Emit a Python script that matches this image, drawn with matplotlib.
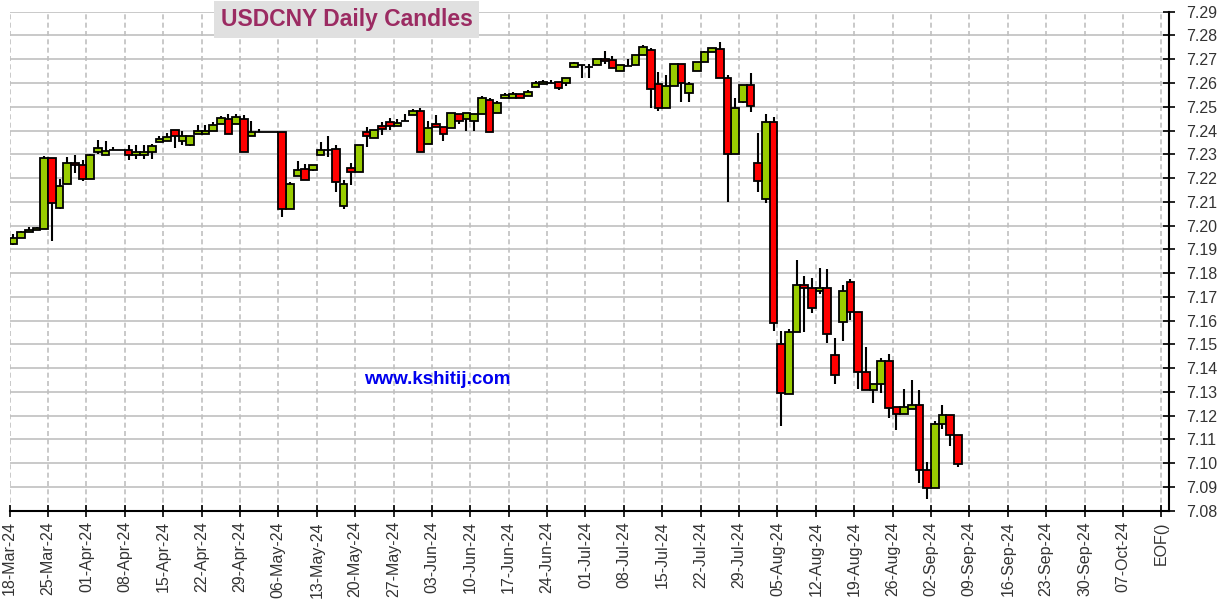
# USDCNY daily candles

import matplotlib.pyplot as plt
import numpy as np
import pandas as pd

plt.rcParams['font.family'] = ['Liberation Sans', 'DejaVu Sans']

# trading days, Mon-Fri, 18-Mar-24 .. 05-Sep-24
dates = pd.bdate_range('2024-03-18', '2024-09-05')

opens = [7.1922, 7.1948, 7.1973, 7.1981, 7.1985,
         7.2284, 7.2073, 7.2174, 7.2263, 7.2254,
         7.2195, 7.2308, 7.2296, 7.2319, 7.2319,
         7.2319, 7.2298, 7.2298, 7.2310, 7.2351,
         7.2357, 7.2402, 7.2357, 7.2339, 7.2385,
         7.2385, 7.2398, 7.2427, 7.2448, 7.2427,
         7.2448, 7.2376, 7.2392, 7.2392, 7.2392,
         7.2392, 7.2069, 7.2208, 7.2240, 7.2233,
         7.2296, 7.2319, 7.2322, 7.2082, 7.2244,
         7.2225, 7.2395, 7.2368, 7.2419, 7.2435,
         7.2419, 7.2438, 7.2465, 7.2482, 7.2343,
         7.2428, 7.2414, 7.2410, 7.2471, 7.2450,
         7.2440, 7.2469, 7.2528, 7.2473, 7.2536,
         7.2536, 7.2552, 7.2545, 7.2581, 7.2595,
         7.2602, 7.2604, 7.2600, 7.2668, 7.2674,
         7.2666, 7.2675, 7.2703, 7.2696, 7.2650,
         7.2673, 7.2675, 7.2717, 7.2739, 7.2595,
         7.2494, 7.2587, 7.2680, 7.2557, 7.2650,
         7.2688, 7.2730, 7.2743, 7.2621, 7.2301,
         7.2520, 7.2591, 7.2263, 7.2111, 7.2435,
         7.1500, 7.1290, 7.1551, 7.1749, 7.1736,
         7.1725, 7.1736, 7.1454, 7.1593, 7.1761,
         7.1635, 7.1382, 7.1307, 7.1332, 7.1429,
         7.1237, 7.1209, 7.1226, 7.1243, 7.0970,
         7.0894, 7.1166, 7.1203, 7.1117]

highs = [7.1964, 7.1978, 7.1995, 7.1995, 7.2294,
         7.2284, 7.2194, 7.2289, 7.2296, 7.2275,
         7.2303, 7.2361, 7.2355, 7.2332, 7.2319,
         7.2339, 7.2340, 7.2340, 7.2343, 7.2375,
         7.2388, 7.2402, 7.2399, 7.2376, 7.2424,
         7.2424, 7.2437, 7.2462, 7.2469, 7.2469,
         7.2466, 7.2441, 7.2406, 7.2392, 7.2392,
         7.2392, 7.2184, 7.2273, 7.2261, 7.2254,
         7.2350, 7.2378, 7.2339, 7.2191, 7.2263,
         7.2339, 7.2416, 7.2402, 7.2435, 7.2452,
         7.2448, 7.2469, 7.2490, 7.2494, 7.2441,
         7.2466, 7.2414, 7.2473, 7.2471, 7.2473,
         7.2469, 7.2546, 7.2536, 7.2524, 7.2557,
         7.2560, 7.2552, 7.2570, 7.2608, 7.2614,
         7.2614, 7.2604, 7.2621, 7.2689, 7.2674,
         7.2680, 7.2703, 7.2736, 7.2712, 7.2675,
         7.2701, 7.2717, 7.2760, 7.2747, 7.2647,
         7.2633, 7.2680, 7.2680, 7.2605, 7.2688,
         7.2736, 7.2747, 7.2774, 7.2635, 7.2536,
         7.2591, 7.2642, 7.2389, 7.2469, 7.2458,
         7.1557, 7.1563, 7.1854, 7.1788, 7.1778,
         7.1820, 7.1818, 7.1526, 7.1750, 7.1774,
         7.1635, 7.1489, 7.1332, 7.1444, 7.1458,
         7.1237, 7.1314, 7.1348, 7.1310, 7.1006,
         7.1177, 7.1244, 7.1203, 7.1117]

lows = [7.1920, 7.1948, 7.1973, 7.1981, 7.1985,
        7.1933, 7.2068, 7.2174, 7.2223, 7.2188,
        7.2195, 7.2301, 7.2296, 7.2319, 7.2319,
        7.2275, 7.2282, 7.2282, 7.2278, 7.2351,
        7.2357, 7.2326, 7.2339, 7.2333, 7.2385,
        7.2385, 7.2398, 7.2427, 7.2385, 7.2427,
        7.2308, 7.2376, 7.2392, 7.2392, 7.2392,
        7.2038, 7.2069, 7.2208, 7.2191, 7.2228,
        7.2296, 7.2287, 7.2143, 7.2068, 7.2169,
        7.2225, 7.2329, 7.2368, 7.2379, 7.2403,
        7.2419, 7.2438, 7.2465, 7.2308, 7.2343,
        7.2414, 7.2357, 7.2410, 7.2426, 7.2396,
        7.2399, 7.2469, 7.2392, 7.2473, 7.2536,
        7.2536, 7.2536, 7.2545, 7.2581, 7.2595,
        7.2602, 7.2571, 7.2586, 7.2668, 7.2619,
        7.2623, 7.2675, 7.2680, 7.2663, 7.2650,
        7.2673, 7.2675, 7.2717, 7.2493, 7.2484,
        7.2494, 7.2587, 7.2522, 7.2518, 7.2650,
        7.2688, 7.2730, 7.2621, 7.2101, 7.2301,
        7.2514, 7.2476, 7.2143, 7.2097, 7.1557,
        7.1156, 7.1290, 7.1551, 7.1554, 7.1634,
        7.1711, 7.1507, 7.1335, 7.1514, 7.1603,
        7.1311, 7.1307, 7.1255, 7.1297, 7.1192,
        7.1138, 7.1209, 7.1226, 7.0918, 7.0848,
        7.0894, 7.1142, 7.1072, 7.0985]

closes = [7.1948, 7.1973, 7.1981, 7.1988, 7.2284,
          7.2096, 7.2166, 7.2263, 7.2256, 7.2195,
          7.2296, 7.2326, 7.2313, 7.2319, 7.2319,
          7.2296, 7.2309, 7.2309, 7.2334, 7.2364,
          7.2372, 7.2376, 7.2376, 7.2376, 7.2396,
          7.2396, 7.2424, 7.2452, 7.2385, 7.2458,
          7.2308, 7.2392, 7.2392, 7.2392, 7.2392,
          7.2069, 7.2174, 7.2233, 7.2191, 7.2254,
          7.2317, 7.2319, 7.2183, 7.2174, 7.2225,
          7.2339, 7.2375, 7.2402, 7.2406, 7.2419,
          7.2433, 7.2438, 7.2482, 7.2308, 7.2410,
          7.2414, 7.2385, 7.2473, 7.2441, 7.2473,
          7.2469, 7.2536, 7.2392, 7.2515, 7.2549,
          7.2552, 7.2536, 7.2562, 7.2600, 7.2604,
          7.2602, 7.2579, 7.2621, 7.2684, 7.2674,
          7.2666, 7.2703, 7.2692, 7.2663, 7.2675,
          7.2673, 7.2717, 7.2750, 7.2574, 7.2494,
          7.2587, 7.2680, 7.2600, 7.2597, 7.2688,
          7.2730, 7.2747, 7.2621, 7.2301, 7.2494,
          7.2591, 7.2503, 7.2187, 7.2435, 7.1590,
          7.1297, 7.1551, 7.1749, 7.1738, 7.1652,
          7.1736, 7.1542, 7.1371, 7.1724, 7.1635,
          7.1382, 7.1307, 7.1332, 7.1429, 7.1231,
          7.1209, 7.1237, 7.1243, 7.0970, 7.0894,
          7.1166, 7.1203, 7.1117, 7.0998]

tick_labels = ['18-Mar-24', '25-Mar-24', '01-Apr-24', '08-Apr-24', '15-Apr-24',
               '22-Apr-24', '29-Apr-24', '06-May-24', '13-May-24', '20-May-24',
               '27-May-24', '03-Jun-24', '10-Jun-24', '17-Jun-24', '24-Jun-24',
               '01-Jul-24', '08-Jul-24', '15-Jul-24', '22-Jul-24', '29-Jul-24',
               '05-Aug-24', '12-Aug-24', '19-Aug-24', '26-Aug-24', '02-Sep-24',
               '09-Sep-24', '16-Sep-24', '23-Sep-24', '30-Sep-24', '07-Oct-24',
               'EOF()']

o = np.array(opens)
h = np.array(highs)
l = np.array(lows)
c = np.array(closes)
x = np.arange(len(dates)) + 0.5
up = c >= o

fig = plt.figure(figsize=(12.21, 6.09), dpi=100)
ax = fig.add_axes([0.0079, 0.1614, 0.9495, 0.8194])

# wicks, then bodies
ax.vlines(x, l, h, color='black', lw=1.5, zorder=2)
ax.bar(x[up], (c - o)[up], bottom=o[up], width=1.0, color='#99cc00',
       edgecolor='black', lw=1.3, zorder=3)
ax.bar(x[~up], (o - c)[~up], bottom=c[~up], width=1.0, color='#ff0000',
       edgecolor='black', lw=1.3, zorder=3)

ax.set_xlim(0, 151)
ax.set_ylim(7.08, 7.29)
ax.set_xticks(np.arange(len(tick_labels)) * 5)
ax.set_xticklabels(tick_labels, rotation=90, fontsize=11.5, color='#333333')
ax.set_yticks(np.arange(7.08, 7.2901, 0.01))
ax.set_yticklabels([f'{v:.2f}' for v in np.arange(7.08, 7.2901, 0.01)],
                   fontsize=11.5, color='#333333')
ax.yaxis.tick_right()
ax.tick_params(axis='both', direction='inout', length=9, width=1.2, color='black')
ax.tick_params(axis='y', pad=8)
ax.tick_params(axis='x', pad=3)

for s in ['left', 'top']:
    ax.spines[s].set_visible(False)
for s in ['right', 'bottom']:
    ax.spines[s].set_linewidth(1.5)

ax.grid(axis='y', color='#c0c0c0', lw=1.2, linestyle='-', zorder=0)
ax.grid(axis='x', color='#c0c0c0', lw=1.2, linestyle=(0, (3, 2)), zorder=0)
ax.set_axisbelow(True)

ax.text(0.3686, 0.262, 'www.kshitij.com', transform=ax.transAxes, ha='center',
        va='center', color='#0000ee', fontsize=13.5, fontweight='bold')

fig.text(0.2838, 0.968, 'USDCNY Daily Candles', ha='center', va='center',
         color='#9b2b62', fontsize=16.5, fontweight='bold',
         bbox=dict(boxstyle='square,pad=0.3', facecolor='#e0e0e0', edgecolor='none'))

plt.savefig('out.png', dpi=100)
